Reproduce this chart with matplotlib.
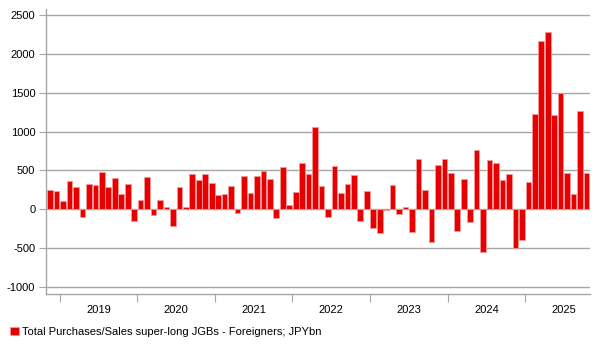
import matplotlib.pyplot as plt
import numpy as np

plt.rcParams['font.family'] = ['Liberation Sans', 'DejaVu Sans']
plt.rcParams['axes.unicode_minus'] = False

# monthly, Nov 2018 .. Oct 2025 (JPY bn)
start = '2018-11'
values = [250, 240,
          110, 360, 280, -100, 330, 310, 480, 290, 400, 200, 330, -145,
          120, 410, -80, 120, 30, -215, 290, 35, 450, 375, 450, 335,
          185, 195, 300, -45, 425, 215, 425, 495, 395, -115, 545, 50,
          220, 595, 455, 1055, 300, -105, 555, 205, 320, 435, -155, 230,
          -245, -305, -15, 310, -55, 35, -295, 650, 250, -427, 568, 650,
          470, -278, 385, -158, 765, -547, 637, 598, 378, 455, -500, -397,
          350, 1225, 2170, 2275, 1215, 1490, 470, 200, 1265, 470]
years = ['2019', '2020', '2021', '2022', '2023', '2024', '2025']
label = 'Total Purchases/Sales super-long JGBs - Foreigners; JPYbn'

months = np.arange(len(values))
gray = '#a6a6a6'

fig = plt.figure(figsize=(6.03, 3.52), dpi=100)
ax = fig.add_axes([0.077, 0.165, 0.901, 0.81])

ax.bar(months, values, width=0.88, color='#e60000', edgecolor='#f49a9a',
       linewidth=0.6, label=label, zorder=3)

ax.set_ylim(-1090, 2580)
ax.set_yticks(np.arange(-1000, 2501, 500))
ax.set_xlim(-0.58, len(values) - 0.5)
ax.grid(axis='y', color=gray, linewidth=1, zorder=0)

# year boundaries as ticks, names in between
first = 2  # index of Jan 2019
bounds = [first - 0.5 + 12 * k for k in range(len(years))]
ax.set_xticks(bounds)
ax.set_xticklabels([])
ax.set_xticks([b + 6 for b in bounds], minor=True)
ax.set_xticklabels(years, minor=True)
ax.tick_params(axis='x', which='major', length=6, color=gray)
ax.tick_params(axis='x', which='minor', length=0, pad=8, labelsize=8)
ax.tick_params(axis='y', length=5, color=gray, labelsize=8, pad=3)

for s in ['top', 'right']:
    ax.spines[s].set_visible(False)
for s in ['left', 'bottom']:
    ax.spines[s].set_color(gray)
    ax.spines[s].set_linewidth(1)

fig.legend(loc='center left', bbox_to_anchor=(-0.0005, 20 / 352), frameon=False,
           fontsize=8, handlelength=0.8, handleheight=0.8, handletextpad=0.3)

fig.savefig('out.png', dpi=100)
